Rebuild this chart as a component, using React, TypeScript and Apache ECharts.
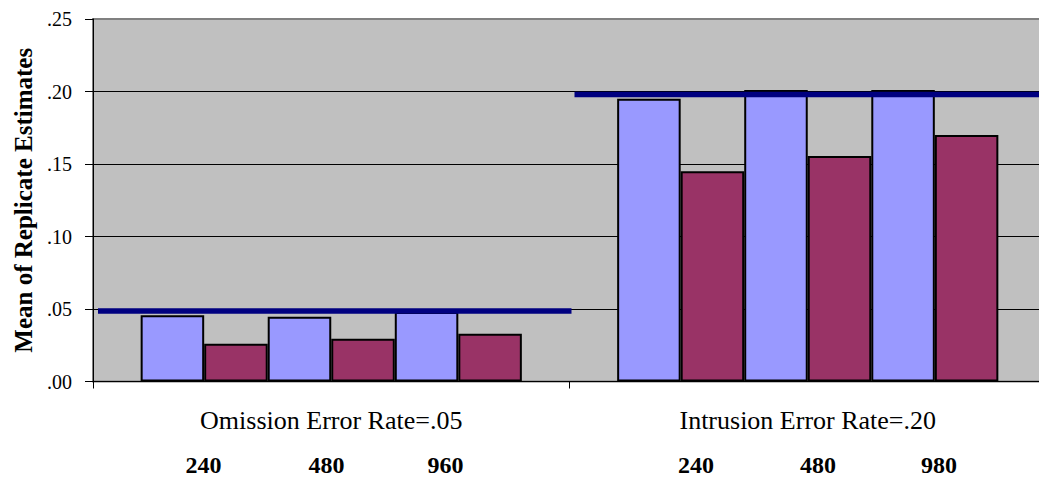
import { useEffect, useRef } from 'react';
import * as echarts from 'echarts';

// Error-rate conditions shown along the category axis
const categories = ['Omission Error Rate=.05', 'Intrusion Error Rate=.20'];
// Sample sizes for the three bar pairs in each condition
const sampleSizes = [
  [240, 480, 960],
  [240, 480, 980],
];
// Mean of replicate estimates, first estimator; one row per sample size, [omission, intrusion]
const estimateA = [
  [0.0457, 0.195],
  [0.0447, 0.201],
  [0.048, 0.201],
];
// Mean of replicate estimates, second estimator
const estimateB = [
  [0.026, 0.145],
  [0.0295, 0.1555],
  [0.033, 0.17],
];
// Reference level drawn across each condition
const referenceLevels = [0.0486, 0.198];
// Value axis ticks
const yMin = 0;
const yMax = 0.25;
const yStep = 0.05;

// Horizontal nudge (px) of each sample-size label from its pair centre
const sizeLabelShift = [
  [-1, -5, -13],
  [15, 10, 4],
];

const FONT = '"Liberation Serif", "Times New Roman", serif';

export default function App() {
  const ref = useRef<HTMLDivElement>(null);

  useEffect(() => {
    if (!ref.current) return;
    const chart = echarts.init(ref.current, null, { renderer: 'svg' });

    const series: any[] = [];
    for (let k = 0; k < 3; k++) {
      series.push({
        type: 'bar',
        name: `Estimator A, size ${k + 1}`,
        barGap: '0%',
        barCategoryGap: '20%',
        itemStyle: { color: '#9999FF', borderColor: '#000000', borderWidth: 2 },
        data: estimateA[k].map((v, g) => ({
          value: v,
          label: {
            show: true,
            position: 'bottom',
            distance: 5,
            offset: [32 + sizeLabelShift[g][k], 66],
            formatter: String(sampleSizes[g][k]),
            fontFamily: FONT,
            fontWeight: 'bold',
            fontSize: 24,
            color: '#000000',
          },
        })),
      });
      series.push({
        type: 'bar',
        name: `Estimator B, size ${k + 1}`,
        barGap: '0%',
        barCategoryGap: '20%',
        itemStyle: { color: '#993366', borderColor: '#000000', borderWidth: 2 },
        data: estimateB[k].slice(),
      });
    }

    // Reference level spanning each condition's band
    series.push({
      type: 'custom',
      name: 'Reference',
      z: 5,
      clip: false,
      encode: { x: 0, y: 1 },
      data: referenceLevels.map((v, i) => [i, v]),
      renderItem: (_params: any, api: any) => {
        const i = api.value(0);
        const v = api.value(1);
        const pt = api.coord([i, v]);
        const w = api.size([1, 0])[0];
        return {
          type: 'line',
          shape: { x1: pt[0] - w / 2 + 5, y1: pt[1], x2: pt[0] + w / 2 + 2, y2: pt[1] },
          style: { stroke: '#000080', lineWidth: 5.5 },
        };
      },
    });

    chart.setOption({
      animation: false,
      backgroundColor: '#ffffff',
      grid: {
        left: 93,
        right: 14,
        top: 19,
        bottom: 97.5,
        show: true,
        backgroundColor: '#C0C0C0',
        borderColor: '#808080',
        borderWidth: 2,
      },
      xAxis: {
        type: 'category',
        data: categories,
        axisLine: { show: true, lineStyle: { color: '#000000', width: 1 } },
        axisTick: { show: true, length: 7, alignWithLabel: false, interval: 0, lineStyle: { color: '#000000' } },
        axisLabel: { margin: 26, fontSize: 26, fontFamily: FONT, color: '#000000', interval: 0 },
        splitLine: { show: false },
      },
      yAxis: {
        type: 'value',
        min: yMin,
        max: yMax,
        interval: yStep,
        name: 'Mean of Replicate Estimates',
        nameLocation: 'middle',
        nameGap: 56,
        nameTextStyle: { fontSize: 25, fontWeight: 'bold', fontFamily: FONT, color: '#000000' },
        axisLine: { show: true, lineStyle: { color: '#000000', width: 1 } },
        axisTick: { show: true, length: 8, lineStyle: { color: '#000000' } },
        axisLabel: {
          margin: 21,
          fontSize: 20,
          fontFamily: FONT,
          color: '#000000',
          formatter: (v: number) => v.toFixed(2).replace(/^0/, ''),
        },
        splitLine: { show: true, showMinLine: false, showMaxLine: false, lineStyle: { color: '#000000', width: 1 } },
      },
      series,
    });

    return () => chart.dispose();
  }, []);

  return (
    <div style={{ position: 'fixed', left: 0, top: 0, width: 1039, height: 479, overflow: 'hidden', background: '#fff' }}>
      <div ref={ref} style={{ width: 1060, height: 479 }} />
    </div>
  );
}
